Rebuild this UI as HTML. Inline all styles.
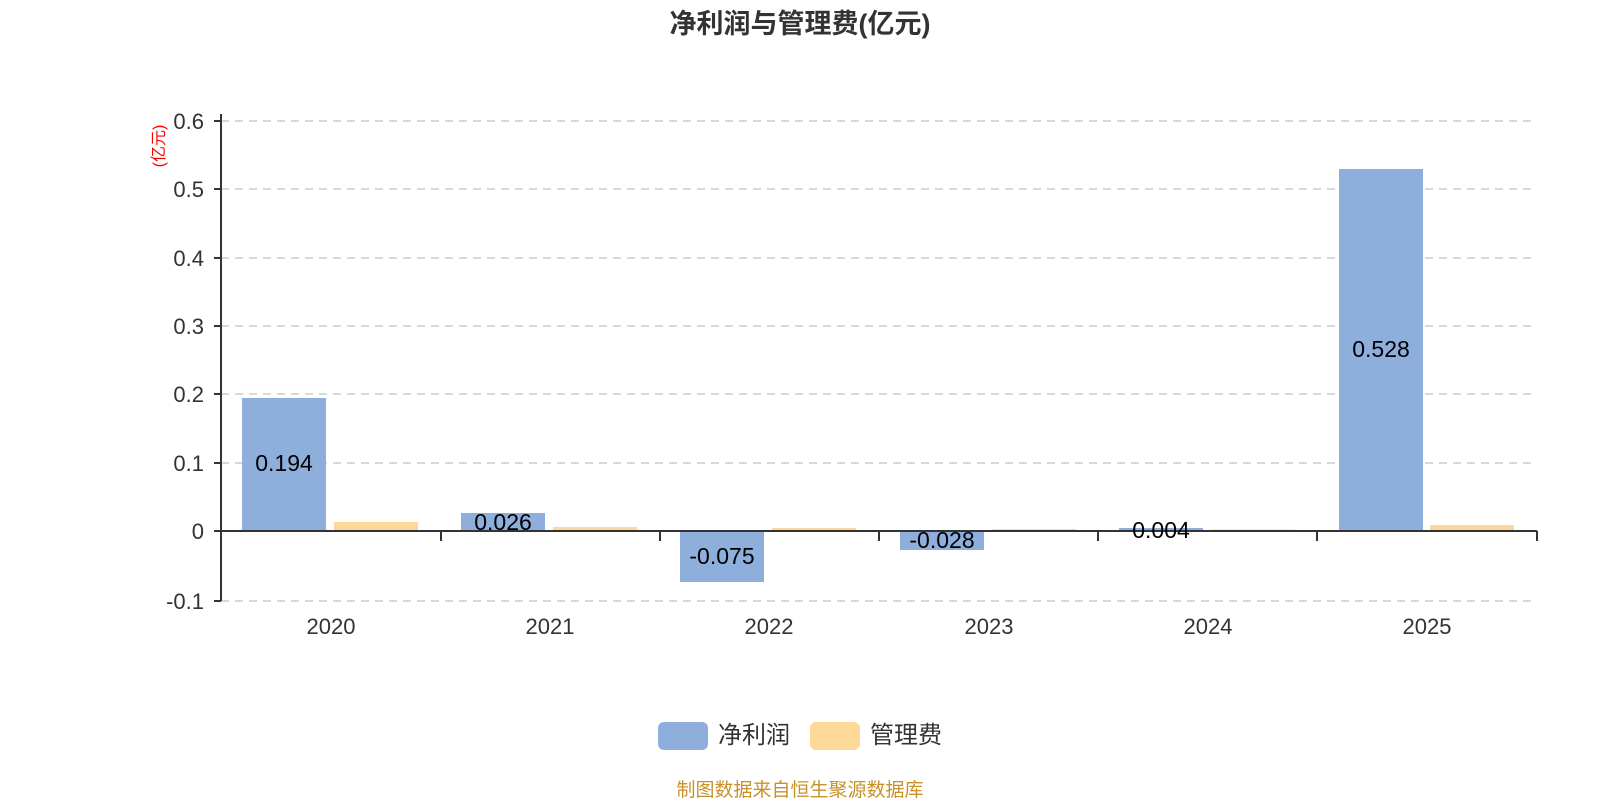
<!DOCTYPE html>
<html><head><meta charset="utf-8"><style>
html,body{margin:0;padding:0;background:#fff;}
svg{display:block;font-family:"Liberation Sans","Noto Sans CJK SC",sans-serif;}
</style></head><body>
<svg width="1600" height="800" viewBox="0 0 1600 800" xmlns="http://www.w3.org/2000/svg">
<text x="800" y="33" text-anchor="middle" font-size="27" font-weight="bold" fill="#333">净利润与管理费(亿元)</text>
<g stroke="#ccc" stroke-width="1.5" stroke-dasharray="8,6">
<line x1="221" y1="121" x2="1537" y2="121"/>
<line x1="221" y1="189" x2="1537" y2="189"/>
<line x1="221" y1="258" x2="1537" y2="258"/>
<line x1="221" y1="326" x2="1537" y2="326"/>
<line x1="221" y1="394" x2="1537" y2="394"/>
<line x1="221" y1="463" x2="1537" y2="463"/>
<line x1="221" y1="601" x2="1537" y2="601"/>
</g>
<g font-size="22" fill="#333" text-anchor="end">
<text x="204" y="129">0.6</text>
<text x="204" y="197">0.5</text>
<text x="204" y="266">0.4</text>
<text x="204" y="334">0.3</text>
<text x="204" y="402">0.2</text>
<text x="204" y="471">0.1</text>
<text x="204" y="539">0</text>
<text x="204" y="609">-0.1</text>
</g>
<text transform="translate(164,146) rotate(-90)" text-anchor="middle" font-size="16" fill="#f00">(亿元)</text>
<g fill="#8eaedb">
<rect x="242" y="398" width="84" height="133"/>
<rect x="461" y="513" width="84" height="18"/>
<rect x="680" y="531" width="84" height="51"/>
<rect x="900" y="531" width="84" height="19"/>
<rect x="1119" y="528" width="84" height="3"/>
<rect x="1339" y="169" width="84" height="362"/>
</g>
<g fill="#fdd898">
<rect x="334" y="522" width="84" height="9"/>
<rect x="553" y="527" width="84" height="4"/>
<rect x="772" y="528" width="84" height="3"/>
<rect x="992" y="529" width="84" height="2"/>
<rect x="1211" y="529.5" width="84" height="1.5"/>
<rect x="1430" y="525" width="84" height="6"/>
</g>
<g stroke="#333" stroke-width="2" fill="none">
<line x1="221" y1="114" x2="221" y2="601"/>
<line x1="214" y1="121" x2="221" y2="121"/><line x1="214" y1="189" x2="221" y2="189"/>
<line x1="214" y1="258" x2="221" y2="258"/><line x1="214" y1="326" x2="221" y2="326"/>
<line x1="214" y1="394" x2="221" y2="394"/><line x1="214" y1="463" x2="221" y2="463"/>
<line x1="214" y1="531" x2="221" y2="531"/><line x1="214" y1="601" x2="221" y2="601"/>
<line x1="221" y1="531" x2="1537" y2="531"/>
<line x1="441" y1="531" x2="441" y2="541"/><line x1="660" y1="531" x2="660" y2="541"/>
<line x1="879" y1="531" x2="879" y2="541"/><line x1="1098" y1="531" x2="1098" y2="541"/>
<line x1="1317" y1="531" x2="1317" y2="541"/><line x1="1537" y1="531" x2="1537" y2="541"/>
</g>
<g font-size="22" fill="#333" text-anchor="middle">
<text x="331" y="634">2020</text><text x="550" y="634">2021</text>
<text x="769" y="634">2022</text><text x="989" y="634">2023</text>
<text x="1208" y="634">2024</text><text x="1427" y="634">2025</text>
</g>
<g font-size="23" fill="#000" text-anchor="middle">
<text x="284" y="471">0.194</text>
<text x="503" y="530">0.026</text>
<text x="722" y="564">-0.075</text>
<text x="942" y="548">-0.028</text>
<text x="1161" y="538">0.004</text>
<text x="1381" y="357">0.528</text>
</g>
<rect x="658" y="722" width="50" height="28" rx="6" fill="#8eaedb"/>
<text x="718" y="743" font-size="24" fill="#333">净利润</text>
<rect x="810" y="722" width="50" height="28" rx="6" fill="#fdd898"/>
<text x="870" y="743" font-size="24" fill="#333">管理费</text>
<text x="800" y="796" text-anchor="middle" font-size="19" fill="#c8922a">制图数据来自恒生聚源数据库</text>
</svg>
</body></html>
